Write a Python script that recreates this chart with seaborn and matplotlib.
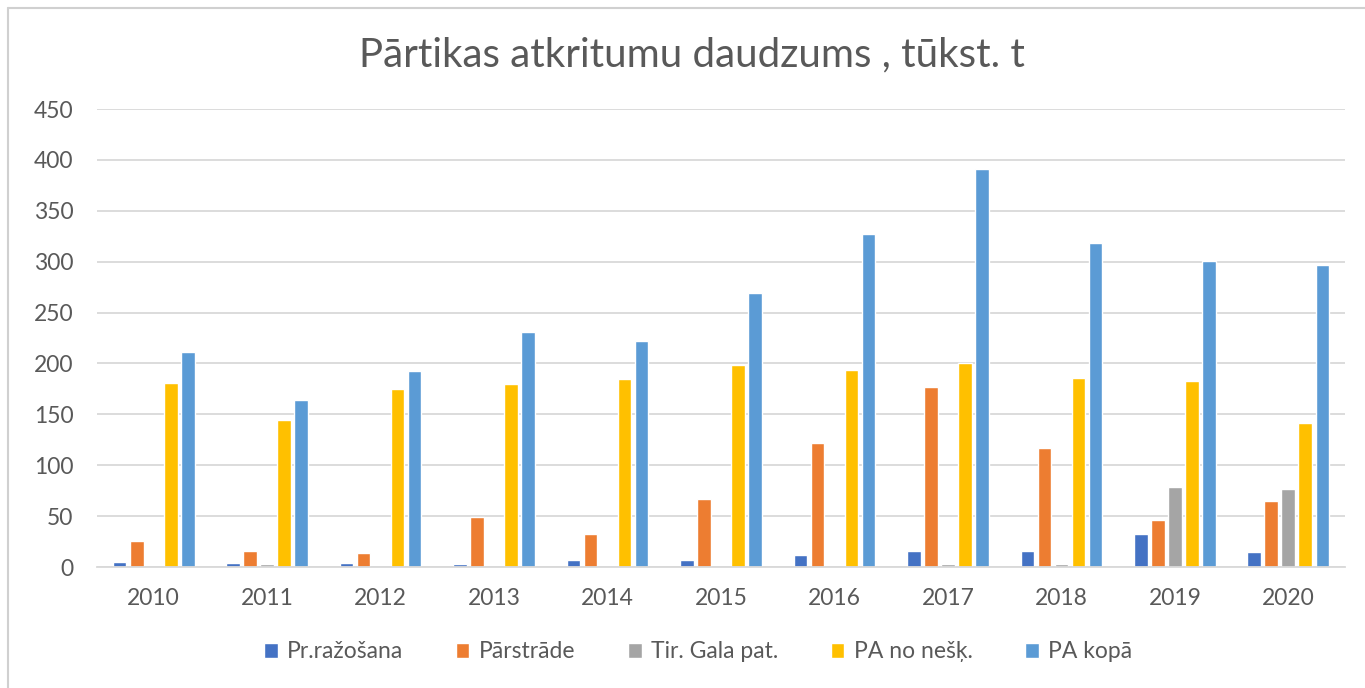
import matplotlib
matplotlib.use("Agg")
import matplotlib.pyplot as plt
import seaborn as sns
import pandas as pd
from matplotlib.lines import Line2D

years = ["2010", "2011", "2012", "2013", "2014", "2015", "2016", "2017", "2018", "2019", "2020"]
series_names = ["Pr.ražošana", "Pārstrāde", "Tir. Gala pat.", "PA no nešķ.", "PA kopā"]
pr_razosana = [5, 4, 4, 3, 7, 7, 12, 16, 16, 32, 15]
parstrade = [26, 16, 14, 49, 32, 67, 122, 177, 117, 46, 65]
tir_gala = [0, 3, 0, 0, 0, 0, 0, 3, 3, 79, 77]
pa_no_nesk = [181, 144, 175, 180, 185, 198, 194, 200, 186, 183, 141]
pa_kopa = [211, 164, 193, 231, 222, 269, 327, 391, 318, 301, 297]
colors = ["#4472C4", "#ED7D31", "#A5A5A5", "#FFC000", "#5B9BD5"]
yticks = [0, 50, 100, 150, 200, 250, 300, 350, 400, 450]

rows = []
for name, vals in zip(series_names, [pr_razosana, parstrade, tir_gala, pa_no_nesk, pa_kopa]):
    for y, v in zip(years, vals):
        rows.append({"Gads": y, "Sērija": name, "Vērtība": v})
df = pd.DataFrame(rows)

sns.set_theme(style="white")
plt.rcParams['font.family'] = ['Lato', 'DejaVu Sans']

fig = plt.figure(figsize=(13.65, 6.88), dpi=100)
ax = fig.add_axes([97/1365, 1-567/688, 1248/1365, 458/688])

sns.barplot(data=df, x="Gads", y="Vērtība", hue="Sērija", order=years,
            hue_order=series_names, palette=colors, width=0.75, gap=0.2,
            saturation=1, ax=ax, legend=True)

ax.set_ylim(0, 450)
ax.set_xlim(-0.5, 10.5)
ax.set_yticks(yticks)
ax.set_yticklabels([str(t) for t in yticks])
ax.yaxis.grid(True, color="#D9D9D9", linewidth=1.3)
ax.set_axisbelow(True)
for s in ["top", "right", "left"]:
    ax.spines[s].set_visible(False)
ax.spines["bottom"].set_color("#D9D9D9")
ax.spines["bottom"].set_linewidth(1.3)
ax.tick_params(axis="both", length=0, labelsize=16.5, labelcolor="#595959")
ax.tick_params(axis="y", pad=17)
ax.tick_params(axis="x", pad=15)
ax.set_xlabel("")
ax.set_ylabel("")

fig.text(692/1365, 1 - 55/688, "Pārtikas atkritumu daudzums , tūkst. t",
         ha="center", va="center", fontsize=29, color="#595959")

ax.legend_.remove()
handles, labels = ax.get_legend_handles_labels()
fig.legend(handles, labels, loc="center", bbox_to_anchor=(698/1365, 1-652/688),
           ncol=5, frameon=False, fontsize=16.5, handlelength=0.6, handleheight=0.6,
           columnspacing=2.3, handletextpad=0.4, labelcolor="#595959")

fig.add_artist(Line2D([8/1365, 1], [1-8/688, 1-8/688], color="#D0D0D0", linewidth=1.5))
fig.add_artist(Line2D([8/1365, 8/1365], [0, 1-8/688], color="#D0D0D0", linewidth=1.5))

fig.savefig("out.png", dpi=100)
